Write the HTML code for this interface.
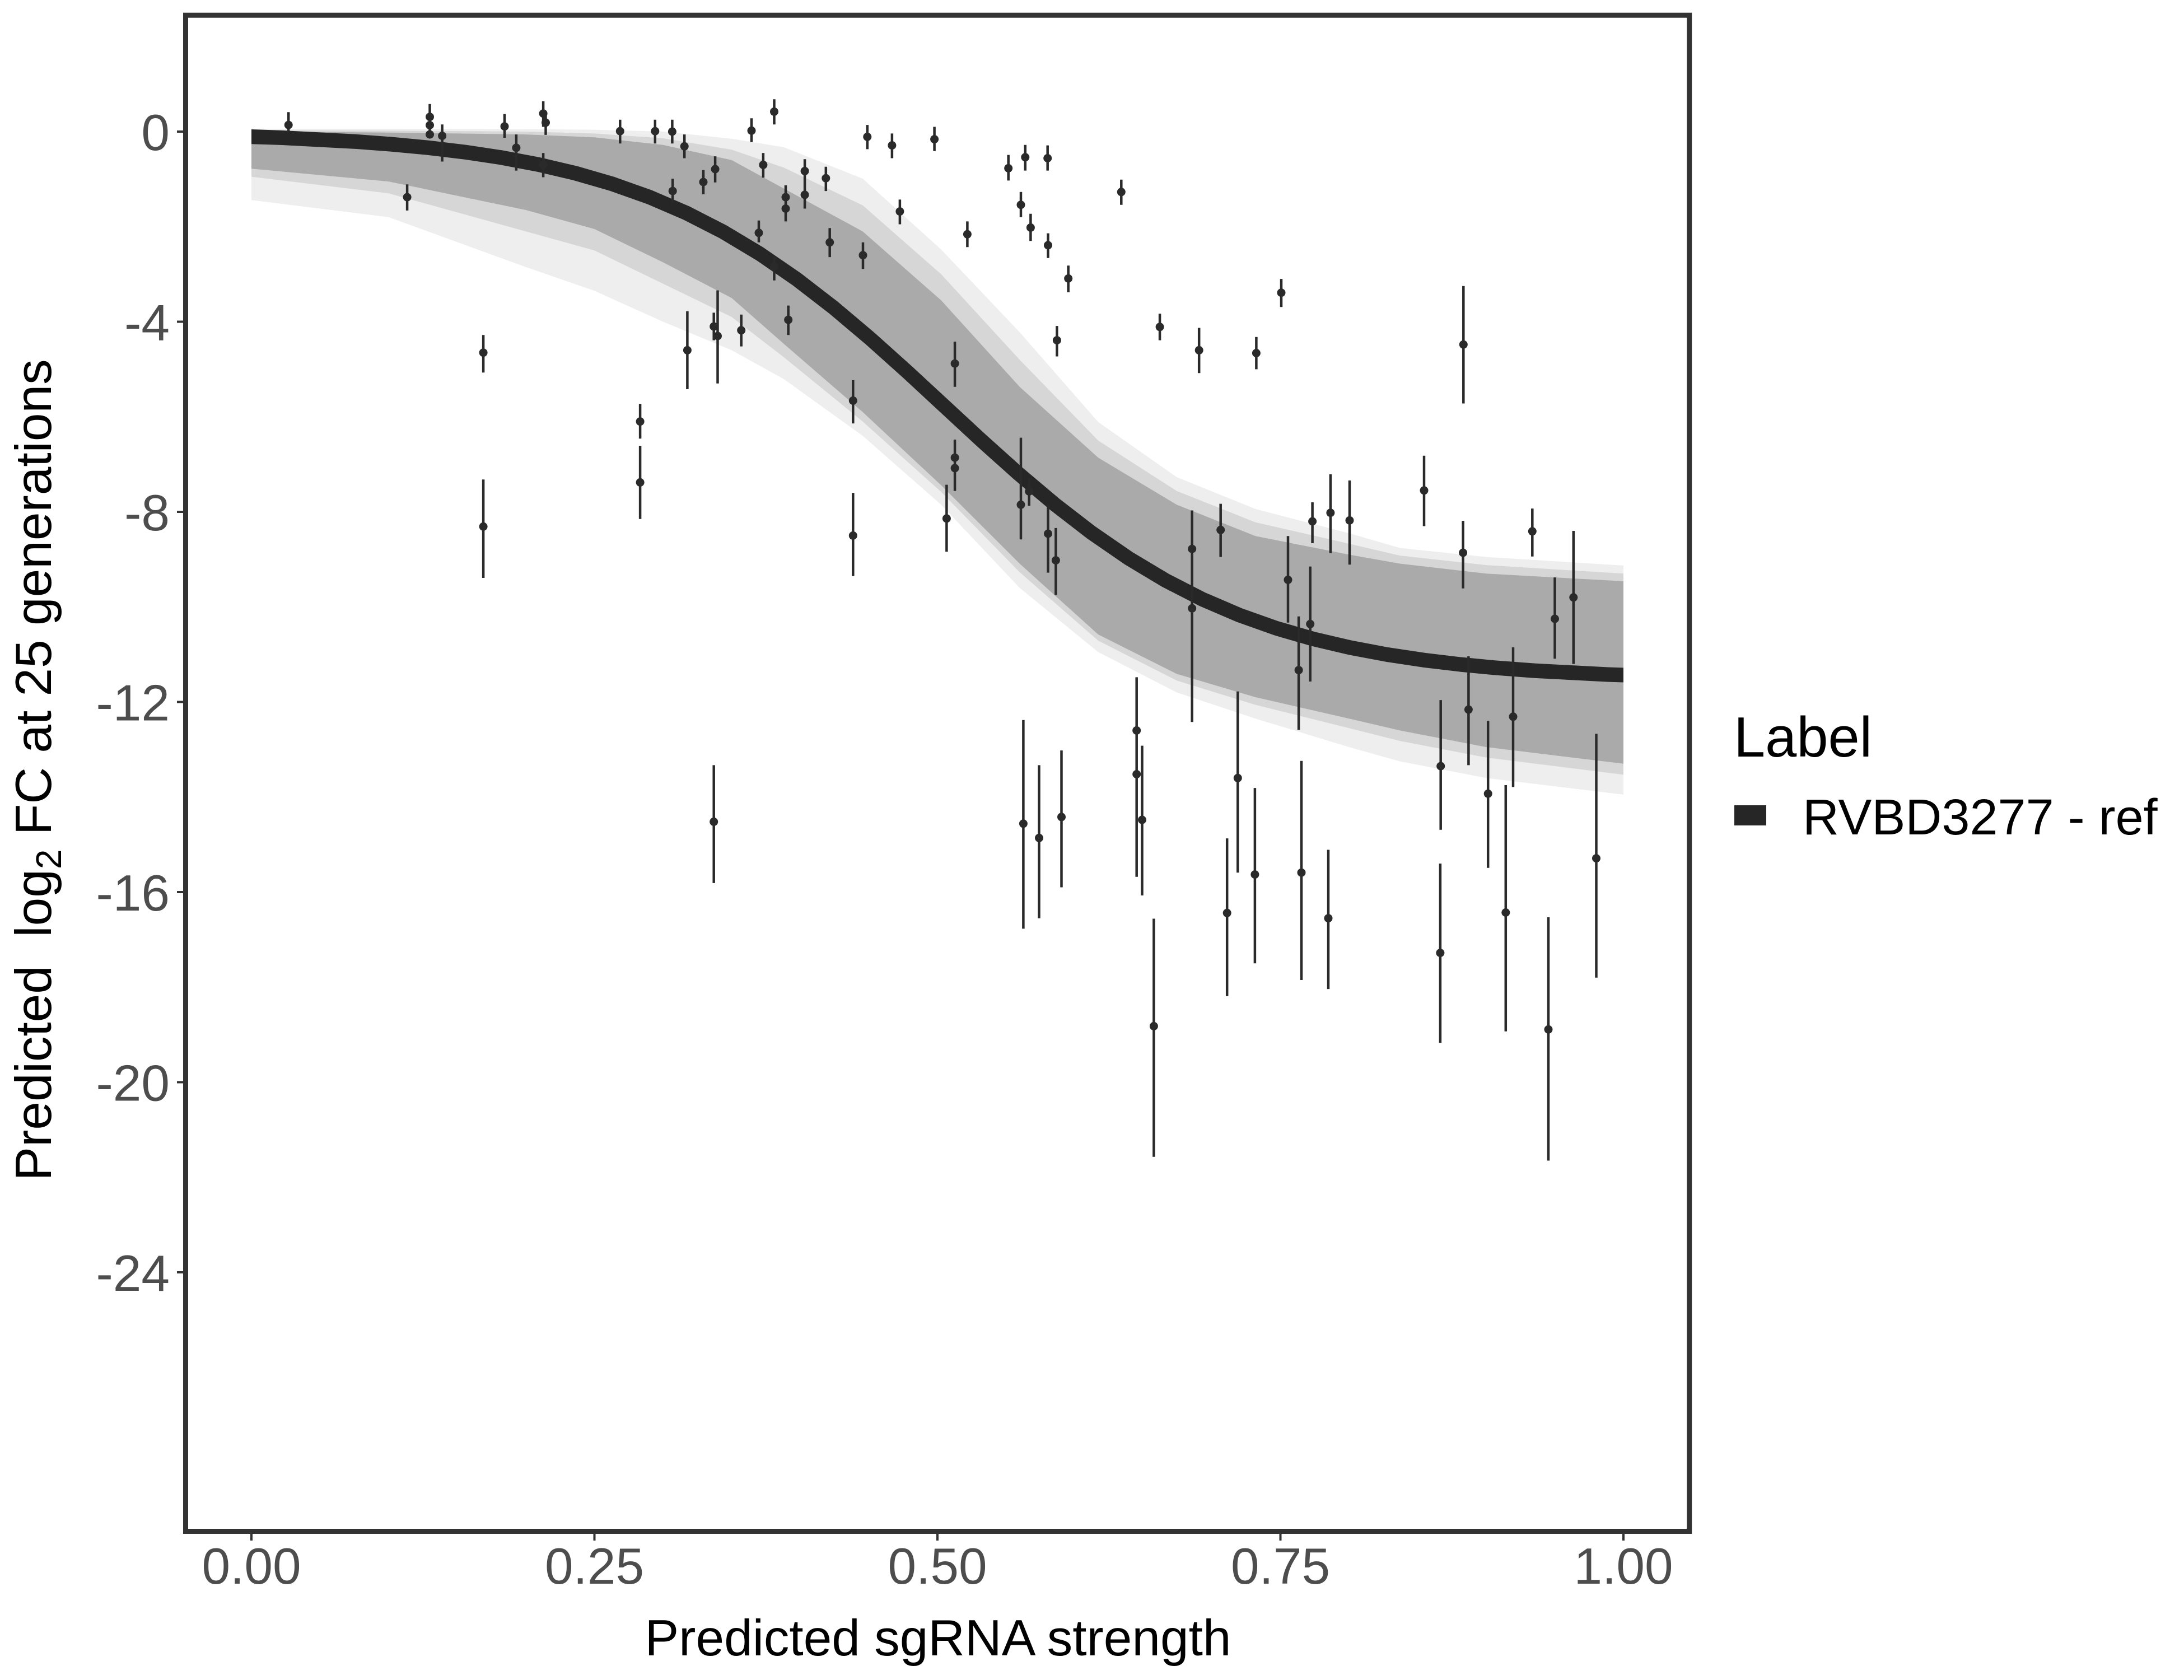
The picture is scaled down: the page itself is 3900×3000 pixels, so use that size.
<!DOCTYPE html>
<html>
<head>
<meta charset="utf-8">
<style>
html,body{margin:0;padding:0;background:#fff}
svg{display:block}
text{font-family:"Liberation Sans",Arial,sans-serif}
</style>
</head>
<body>
<svg width="3900" height="3000" viewBox="0 0 3900 3000" xmlns="http://www.w3.org/2000/svg">
<rect width="3900" height="3000" fill="#fff"/>
<defs>
<clipPath id="cp"><rect x="449" y="32" width="2450" height="2698"/></clipPath>
</defs>
<path fill="#eeeeee" d="M449 229.9L694 229.9L939 230.8L1061.5 231.6L1184 235L1306.5 247.7L1400.1 263L1540.5 319L1680.6 445.5L1820.8 593.2L1961.1 753.6L2101.3 852L2241.9 908.9L2409 952.2L2499.9 978.5L2654 994.6L2899 1009.9L2899 1419L2654 1389.3L2499.9 1359.6L2409 1334.1L2241.9 1283.2L2101.3 1236.5L1961.1 1164.4L1820.8 1049.8L1680.6 901.3L1540.5 778.2L1400.1 677.2L1306.5 625.4L1184 574.5L1061.5 519.3L939 476.9L694 387.8L449 357.2Z"/>
<path fill="#d6d6d6" d="M449 232.5L694 233.3L939 235L1061.5 238.4L1184 246.9L1306.5 267.3L1400.1 299.5L1540.5 366.6L1680.6 489.6L1820.8 642.4L1961.1 786.7L2101.3 876.7L2241.9 932.7L2409 970.9L2499.9 992.1L2654 1009.1L2899 1024.3L2899 1383.4L2654 1352.8L2499.9 1323.1L2409 1300.2L2241.9 1258.6L2101.3 1215.3L1961.1 1144L1820.8 1021.8L1680.6 878.4L1540.5 752.7L1400.1 638.2L1306.5 566L1184 506.6L1061.5 447.2L939 413.2L694 345.3L449 315.6Z"/>
<path fill="#aaaaaa" d="M449 235L694 236.7L939 240.1L1061.5 245.2L1184 258.8L1306.5 285.9L1400.1 336.9L1540.5 413.2L1680.6 536.3L1820.8 690.8L1961.1 817.2L2101.3 901.3L2241.9 957.3L2409 990.4L2499.9 1006.5L2654 1024.3L2899 1037.9L2899 1363.8L2654 1334.1L2499.9 1304.4L2409 1283.2L2241.9 1245L2101.3 1203.4L1961.1 1133L1820.8 1006.5L1680.6 866.5L1540.5 735.8L1400.1 614.4L1306.5 532.1L1184 468.4L1061.5 409L939 375L694 324.1L449 301.2Z"/>
<g clip-path="url(#cp)">
<path fill="none" stroke="#262626" stroke-width="26" stroke-linejoin="round" transform="matrix(0.97571,0,0,1.00544,1686.25,235)" d="M-2160 0.33L-1890 0.89L-1620 2.42L-1485 3.97L-1350 6.52L-1215 10.72L-1080 17.54L-1012.5 22.41L-945 28.58L-877.5 36.4L-810 46.24L-742.5 58.59L-675 73.96L-607.5 92.97L-540 116.22L-472.5 144.35L-405 177.87L-337.5 217.13L-270 262.22L-202.5 312.8L-135 368.1L-67.5 426.87L0 487.5L67.5 548.13L135 606.9L202.5 662.2L270 712.78L337.5 757.87L405 797.13L472.5 830.65L540 858.78L607.5 882.03L675 901.04L742.5 916.41L810 928.76L877.5 938.6L945 946.42L1012.5 952.59L1080 957.46L1215 964.28L1350 968.48L1485 971.03L1620 972.58L1890 974.11L2160 974.67"/>
</g>
<path fill="none" stroke="#2a2a2a" stroke-width="4.5" d="M515.2 200.2V236.7M727.1 329.2V375.9M767.5 185.8V246.9M789.6 222.3V288.5M863.1 598.3V665.3M863.1 856.3V1032M901 203.6V246M921.9 240.1V304.6M970.1 180.7V226.5M974.5 201.1V240.9M970.1 273.2V316.5M1107.3 213.8V256.2M1169.8 213.8V256.2M1200.4 213.8V256.2M1222.2 240.1V282.5M1201.2 319V362.3M1256 303.7V347M1277.1 279.1V325.8M1342 211.2V253.7M1382.5 177.3V222.3M1362.9 273.2V317.3M1355 393.7V432.8M1382.5 458.2V500.7M1403 330.9V395.4M1437.1 284.2V372.5M1474.8 297.8V341.1M1481.7 407.3V459.1M1541 432.8V480.3M1548.8 223.1V266.4M1592.9 238.4V282.5M1606.9 356.4V400.5M1668.6 226.5V269.8M1727.4 395.4V441.2M1800.7 276.6V322.4M1830.8 258.8V304.6M1870.7 259.6V304.6M1823 342.8V387.8M1840.4 381.8V430.2M1871.5 416.6V460.8M1907.7 474.3V521.9M2002.3 320.7V365.7M1887.4 582.1V636.5M1143.1 721.3V783.3M1143.1 796V926.7M1227.4 555.8V695M1274.7 558.4V607.6M1281.5 518.5V684.8M1323.7 561.8V618.6M1407.7 545.6V598.3M1274.7 1366.4V1576.9M1523.3 678.9V756.1M1523.3 880.1V1028.6M1705.1 610.1V690.8M1705.1 785V876.7M1690.4 865.6V985.3M1823 781.6V963.2M1837.7 853.7V903M1871.5 901.3V1022.6M1885.4 942.9V1062.5M2071.1 560.1V607.6M2141.2 585.5V666.2M2243.4 601.7V659.4M2288 498.1V548.2M2613.3 510.8V720.5M2543 813.8V939.5M2128.7 911.5V1289.2M2179.7 899.6V994.6M2300 957.3V1111.8M2319.1 1100.7V1303.6M2339.7 1011.6V1217M2343.6 897V970M2375.9 847V987.8M2410 858V1008.2M2612.6 930.1V1050.7M2736.3 908.1V993.8M2776.5 1031.1V1176.3M2809.8 948V1185.6M1827.4 1285.8V1658.4M1855.5 1366.4V1639.7M1895.5 1340.1V1584.5M2029.7 1209.4V1565.8M2039.5 1331.6V1599M2060.4 1640.5V2065.8M2191.2 1497.1V1778.9M2210.3 1234.8V1558.2M2240.9 1407.1V1720.3M2324 1358.7V1750M2372 1517.5V1766.1M2572.7 1250.1V1481.8M2571.9 1542.1V1862.1M2622.4 1172V1366.4M2657.2 1287.4V1549.7M2688.8 1402V1841.7M2702 1155.9V1405.4M2765 1638V2072.5M2850.5 1310.4V1745.8"/>
<g fill="#2a2a2a">
<circle cx="515.2" cy="223.1" r="7.5"/>
<circle cx="727.1" cy="352.1" r="7.5"/>
<circle cx="767.5" cy="208.7" r="7.5"/>
<circle cx="767.5" cy="223.5" r="7.5"/>
<circle cx="767.5" cy="240.1" r="7.5"/>
<circle cx="789.6" cy="242.6" r="7.5"/>
<circle cx="863.1" cy="629.7" r="7.5"/>
<circle cx="863.1" cy="940.3" r="7.5"/>
<circle cx="901" cy="225.7" r="7.5"/>
<circle cx="921.9" cy="263.9" r="7.5"/>
<circle cx="970.1" cy="202.7" r="7.5"/>
<circle cx="974.5" cy="218.9" r="7.5"/>
<circle cx="970.1" cy="294.4" r="7.5"/>
<circle cx="1107.3" cy="234.2" r="7.5"/>
<circle cx="1169.8" cy="234.2" r="7.5"/>
<circle cx="1200.4" cy="235" r="7.5"/>
<circle cx="1222.2" cy="261.3" r="7.5"/>
<circle cx="1201.2" cy="341.1" r="7.5"/>
<circle cx="1256" cy="325" r="7.5"/>
<circle cx="1277.1" cy="302" r="7.5"/>
<circle cx="1342" cy="233.3" r="7.5"/>
<circle cx="1382.5" cy="199.4" r="7.5"/>
<circle cx="1362.9" cy="294.4" r="7.5"/>
<circle cx="1355" cy="415.8" r="7.5"/>
<circle cx="1382.5" cy="476" r="7.5"/>
<circle cx="1403" cy="352.1" r="7.5"/>
<circle cx="1403" cy="372.5" r="7.5"/>
<circle cx="1437.1" cy="305.4" r="7.5"/>
<circle cx="1437.1" cy="347.9" r="7.5"/>
<circle cx="1474.8" cy="318.2" r="7.5"/>
<circle cx="1481.7" cy="432.8" r="7.5"/>
<circle cx="1541" cy="455.7" r="7.5"/>
<circle cx="1548.8" cy="244.3" r="7.5"/>
<circle cx="1592.9" cy="259.6" r="7.5"/>
<circle cx="1606.9" cy="377.6" r="7.5"/>
<circle cx="1668.6" cy="248.6" r="7.5"/>
<circle cx="1727.4" cy="418.3" r="7.5"/>
<circle cx="1800.7" cy="300.4" r="7.5"/>
<circle cx="1830.8" cy="280.8" r="7.5"/>
<circle cx="1870.7" cy="282.5" r="7.5"/>
<circle cx="1823" cy="365.7" r="7.5"/>
<circle cx="1840.4" cy="406.4" r="7.5"/>
<circle cx="1871.5" cy="437.9" r="7.5"/>
<circle cx="1907.7" cy="497.3" r="7.5"/>
<circle cx="2002.3" cy="342.8" r="7.5"/>
<circle cx="1887.4" cy="607.6" r="7.5"/>
<circle cx="1143.1" cy="752.7" r="7.5"/>
<circle cx="1143.1" cy="861.4" r="7.5"/>
<circle cx="1227.4" cy="625.4" r="7.5"/>
<circle cx="1274.7" cy="583" r="7.5"/>
<circle cx="1281.5" cy="600" r="7.5"/>
<circle cx="1323.7" cy="589.8" r="7.5"/>
<circle cx="1407.7" cy="571.1" r="7.5"/>
<circle cx="1274.7" cy="1467.4" r="7.5"/>
<circle cx="1523.3" cy="715.4" r="7.5"/>
<circle cx="1523.3" cy="956.4" r="7.5"/>
<circle cx="1705.1" cy="649.2" r="7.5"/>
<circle cx="1705.1" cy="817.2" r="7.5"/>
<circle cx="1705.1" cy="835.9" r="7.5"/>
<circle cx="1690.4" cy="925.9" r="7.5"/>
<circle cx="1823" cy="901.3" r="7.5"/>
<circle cx="1837.7" cy="877.5" r="7.5"/>
<circle cx="1871.5" cy="953" r="7.5"/>
<circle cx="1885.4" cy="1000.6" r="7.5"/>
<circle cx="2071.1" cy="583.8" r="7.5"/>
<circle cx="2141.2" cy="625.4" r="7.5"/>
<circle cx="2243.4" cy="630.5" r="7.5"/>
<circle cx="2288" cy="522.7" r="7.5"/>
<circle cx="2613.3" cy="615.2" r="7.5"/>
<circle cx="2543" cy="875.8" r="7.5"/>
<circle cx="2128.7" cy="980.2" r="7.5"/>
<circle cx="2128.7" cy="1086.3" r="7.5"/>
<circle cx="2179.7" cy="946.3" r="7.5"/>
<circle cx="2300" cy="1035.4" r="7.5"/>
<circle cx="2319.1" cy="1196.6" r="7.5"/>
<circle cx="2339.7" cy="1114.3" r="7.5"/>
<circle cx="2343.6" cy="931" r="7.5"/>
<circle cx="2375.9" cy="915.7" r="7.5"/>
<circle cx="2410" cy="929.3" r="7.5"/>
<circle cx="2612.6" cy="987" r="7.5"/>
<circle cx="2736.3" cy="948.8" r="7.5"/>
<circle cx="2776.5" cy="1105" r="7.5"/>
<circle cx="2809.8" cy="1066.8" r="7.5"/>
<circle cx="1827.4" cy="1470.8" r="7.5"/>
<circle cx="1855.5" cy="1496.3" r="7.5"/>
<circle cx="1895.5" cy="1458.9" r="7.5"/>
<circle cx="2029.7" cy="1304.4" r="7.5"/>
<circle cx="2029.7" cy="1382.5" r="7.5"/>
<circle cx="2039.5" cy="1464" r="7.5"/>
<circle cx="2060.4" cy="1832.4" r="7.5"/>
<circle cx="2191.2" cy="1630.3" r="7.5"/>
<circle cx="2210.3" cy="1389.3" r="7.5"/>
<circle cx="2240.9" cy="1561.6" r="7.5"/>
<circle cx="2324" cy="1558.2" r="7.5"/>
<circle cx="2372" cy="1639.7" r="7.5"/>
<circle cx="2572.7" cy="1368.1" r="7.5"/>
<circle cx="2571.9" cy="1701.6" r="7.5"/>
<circle cx="2622.4" cy="1267.1" r="7.5"/>
<circle cx="2657.2" cy="1417.3" r="7.5"/>
<circle cx="2688.8" cy="1629.5" r="7.5"/>
<circle cx="2702" cy="1279.8" r="7.5"/>
<circle cx="2765" cy="1838.3" r="7.5"/>
<circle cx="2850.5" cy="1532.7" r="7.5"/>
</g>
<rect x="331.5" y="27.2" width="2685.2" height="2707.3" fill="none" stroke="#333333" stroke-width="9"/>
<path d="M316 235H327M316 574.5H327M316 914H327M316 1253.5H327M316 1593H327M316 1932.5H327M316 2272H327" stroke="#333333" stroke-width="4"/>
<path d="M449 2739V2751M1061.5 2739V2751M1674 2739V2751M2286.5 2739V2751M2899 2739V2751" stroke="#333333" stroke-width="4"/>
<g fill="#4d4d4d" font-size="91" text-anchor="end">
<text x="303" y="268">0</text>
<text x="303" y="607.5">-4</text>
<text x="303" y="947">-8</text>
<text x="303" y="1286.5">-12</text>
<text x="303" y="1626">-16</text>
<text x="303" y="1965.5">-20</text>
<text x="303" y="2305">-24</text>
</g>
<g fill="#4d4d4d" font-size="91" text-anchor="middle">
<text x="449" y="2828">0.00</text>
<text x="1061.5" y="2828">0.25</text>
<text x="1674" y="2828">0.50</text>
<text x="2286.5" y="2828">0.75</text>
<text x="2899" y="2828">1.00</text>
</g>
<text x="1675" y="2956" font-size="91" text-anchor="middle" fill="#000">Predicted sgRNA strength</text>
<text transform="translate(91,1375) rotate(-90)" font-size="91" text-anchor="middle" fill="#000">Predicted&#160; log<tspan font-size="64" dy="18">2</tspan><tspan dy="-18"> FC at 25 generations</tspan></text>
<text x="3096" y="1351" font-size="101" fill="#000">Label</text>
<rect x="3097" y="1438" width="57" height="36" fill="#262626"/>
<text x="3219" y="1490" font-size="90" fill="#000">RVBD3277 - ref</text>
</svg>
</body>
</html>
